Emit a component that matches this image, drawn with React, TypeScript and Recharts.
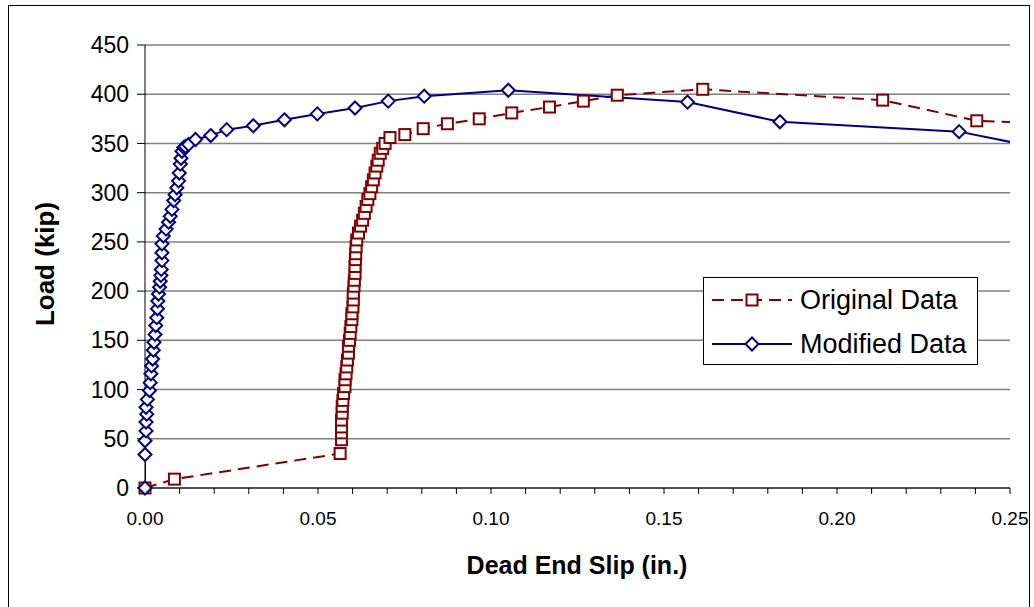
import React from "react";
import { CartesianGrid, Legend, Line, LineChart, XAxis, YAxis } from "recharts";

// dead end slip (in.) vs load (kip)
const originalSlip = [
  0, 0.0085, 0.0564, 0.0568, 0.0568, 0.0568, 0.0568, 0.057, 0.057, 0.0572, 0.0574, 0.0578, 0.0578,
  0.0581, 0.0583, 0.0585, 0.0588, 0.0588, 0.0591, 0.0593, 0.0595, 0.0598, 0.0598, 0.0601, 0.0602,
  0.0602, 0.0604, 0.0605, 0.0607, 0.0607, 0.0608, 0.0609, 0.061, 0.0612, 0.0617, 0.0623, 0.0629,
  0.0634, 0.0639, 0.0644, 0.065, 0.0655, 0.066, 0.0665, 0.067, 0.0674, 0.068, 0.0687, 0.0694, 0.0708,
  0.0751, 0.0804, 0.0874, 0.0966, 0.106, 0.1169, 0.1267, 0.1365, 0.1612, 0.2132, 0.2404, 0.265,
];
const originalLoad = [
  0, 9, 35, 49, 56, 62, 69, 76, 83, 89, 96, 103, 110, 116, 123, 130, 137, 144, 150, 157, 164, 171, 177,
  184, 191, 198, 205, 211, 218, 225, 232, 238, 245, 252, 259, 266, 272, 279, 286, 293, 299, 306, 313,
  320, 327, 333, 340, 345, 350, 356, 359, 365, 370, 375, 381, 387, 393, 399, 405, 394, 373, 370,
];

const modifiedSlip = [
  0, 0, 0, 0.0003, 0.0003, 0.0005, 0.0003, 0.0007, 0.0013, 0.0015, 0.0017, 0.0019, 0.0022, 0.0024,
  0.0026, 0.0029, 0.0031, 0.0034, 0.0036, 0.0037, 0.0039, 0.0042, 0.0044, 0.0046, 0.0047, 0.0049,
  0.0049, 0.0049, 0.0053, 0.0061, 0.0068, 0.0073, 0.0078, 0.0083, 0.0087, 0.0092, 0.0097, 0.0099,
  0.0102, 0.0104, 0.0107, 0.0112, 0.0117, 0.0126, 0.0146, 0.019, 0.0236, 0.0313, 0.0403, 0.0498,
  0.0607, 0.0703, 0.0807, 0.105, 0.1568, 0.1835, 0.2353, 0.265,
];
const modifiedLoad = [
  0, 34, 48, 58, 67, 75, 82, 90, 99, 107, 116, 124, 131, 140, 148, 156, 165, 173, 182, 190, 197, 204,
  210, 216, 222, 231, 239, 248, 256, 263, 270, 276, 283, 292, 298, 305, 312, 320, 329, 335, 342, 346,
  347, 349, 354, 358, 364, 368, 374, 380, 386, 393, 398, 404, 392, 372, 362, 341,
];

const xTicks = [
  0, 0.01, 0.02, 0.03, 0.04, 0.05, 0.06, 0.07, 0.08, 0.09, 0.1, 0.11, 0.12, 0.13, 0.14, 0.15, 0.16,
  0.17, 0.18, 0.19, 0.2, 0.21, 0.22, 0.23, 0.24, 0.25,
];
const yTicks = [0, 50, 100, 150, 200, 250, 300, 350, 400, 450];

const X_MAX = 0.25;
const RED = "#800000";
const BLUE = "#000080";
const FONT = "'Liberation Sans', Arial, sans-serif";

const original = originalSlip.map((x, i) => ({ x, y: originalLoad[i] }));
const modified = modifiedSlip.map((x, i) => ({ x, y: modifiedLoad[i] }));
// markers only for points inside the axis range; the lines run on past the edge and get clipped
const originalMarks = original.filter((p) => p.x <= X_MAX);
const modifiedMarks = modified.filter((p) => p.x <= X_MAX);

const squareDot = (p: any) => {
  if (p.cx == null || p.cy == null) return <g key={`o${p.index}`} />;
  return (
    <rect key={`o${p.index}`} x={p.cx - 5.5} y={p.cy - 5.5} width={11} height={11}
      fill="#fff" stroke={RED} strokeWidth={2} />
  );
};

const diamondDot = (p: any) => {
  if (p.cx == null || p.cy == null) return <g key={`m${p.index}`} />;
  const r = 6.5;
  return (
    <path key={`m${p.index}`}
      d={`M${p.cx},${p.cy - r}L${p.cx + r},${p.cy}L${p.cx},${p.cy + r}L${p.cx - r},${p.cy}Z`}
      fill="#fff" stroke={BLUE} strokeWidth={2} />
  );
};

const fmtX = (v: number) => (Math.round(v * 100) % 5 === 0 ? v.toFixed(2) : "");

function LegendBox() {
  const row = (label: string, color: string, dashed: boolean, marker: "square" | "diamond") => (
    <div style={{ display: "flex", alignItems: "center", height: 44 }}>
      <svg width={92} height={20} style={{ marginLeft: 6 }}>
        <line x1={2} y1={10} x2={82} y2={10} stroke={color} strokeWidth={2}
          strokeDasharray={dashed ? "12 7" : undefined} />
        {marker === "square" ? (
          <rect x={36.5} y={4.5} width={11} height={11} fill="#fff" stroke={color} strokeWidth={2} />
        ) : (
          <path d="M42,3.5L48.5,10L42,16.5L35.5,10Z" fill="#fff" stroke={color} strokeWidth={2} />
        )}
      </svg>
      <span style={{ fontFamily: FONT, fontSize: 27, color: "#000", marginLeft: -2 }}>{label}</span>
    </div>
  );
  return (
    <div style={{ width: 273, height: 86, border: "1px solid #000", background: "#fff" }}>
      {row("Original Data", RED, true, "square")}
      {row("Modified Data", BLUE, false, "diamond")}
    </div>
  );
}

export default function App() {
  return (
    <div style={{ position: "absolute", left: 0, top: 0, width: 1034, height: 607, background: "#fff" }}>
      <div style={{ position: "absolute", left: 8, top: 5, width: 1022, height: 610, border: "1px solid #000", boxSizing: "border-box" }} />
      <LineChart width={1034} height={607} margin={{ top: 45, right: 24, left: 0, bottom: 0 }}>
        <CartesianGrid vertical={false} stroke="#808080" strokeWidth={1.5} />
        <XAxis type="number" dataKey="x" domain={[0, X_MAX]} ticks={xTicks} allowDataOverflow
          interval={0} tickFormatter={fmtX} height={119} tickSize={6} tickMargin={18}
          stroke="#000" tick={{ fill: "#000", fontSize: 19, fontFamily: FONT }}
          label={{ content: () => (
            <text x={577} y={574} textAnchor="middle" fontFamily={FONT} fontWeight="bold" fontSize={25} fill="#000">
              Dead End Slip (in.)
            </text>
          ) }} />
        {/* same scale for the markers, without clipping so the ones on the axis stay whole */}
        <XAxis xAxisId="marks" type="number" dataKey="x" domain={[0, X_MAX]} hide />
        <YAxis type="number" domain={[0, 450]} ticks={yTicks} width={145}
          tickSize={8} tickMargin={8} stroke="#000"
          tick={{ fill: "#000", fontSize: 23, fontFamily: FONT }}
          label={{ content: () => (
            <text x={54} y={264} transform="rotate(-90 54 264)" textAnchor="middle" fontFamily={FONT}
              fontWeight="bold" fontSize={26} fill="#000">
              Load (kip)
            </text>
          ) }} />
        <Legend content={() => <LegendBox />} layout="horizontal" verticalAlign="middle"
          wrapperStyle={{ left: 703, top: 277, width: 275 }} />
        <Line data={original} dataKey="y" name="Original Data" stroke={RED} strokeWidth={2}
          strokeDasharray="12 7" dot={false} activeDot={false} isAnimationActive={false} legendType="none" />
        <Line xAxisId="marks" data={originalMarks} dataKey="y" stroke="none" dot={squareDot}
          activeDot={false} isAnimationActive={false} legendType="none" />
        <Line data={modified} dataKey="y" name="Modified Data" stroke={BLUE} strokeWidth={2}
          dot={false} activeDot={false} isAnimationActive={false} legendType="none" />
        <Line xAxisId="marks" data={modifiedMarks} dataKey="y" stroke="none" dot={diamondDot}
          activeDot={false} isAnimationActive={false} legendType="none" />
      </LineChart>
    </div>
  );
}
